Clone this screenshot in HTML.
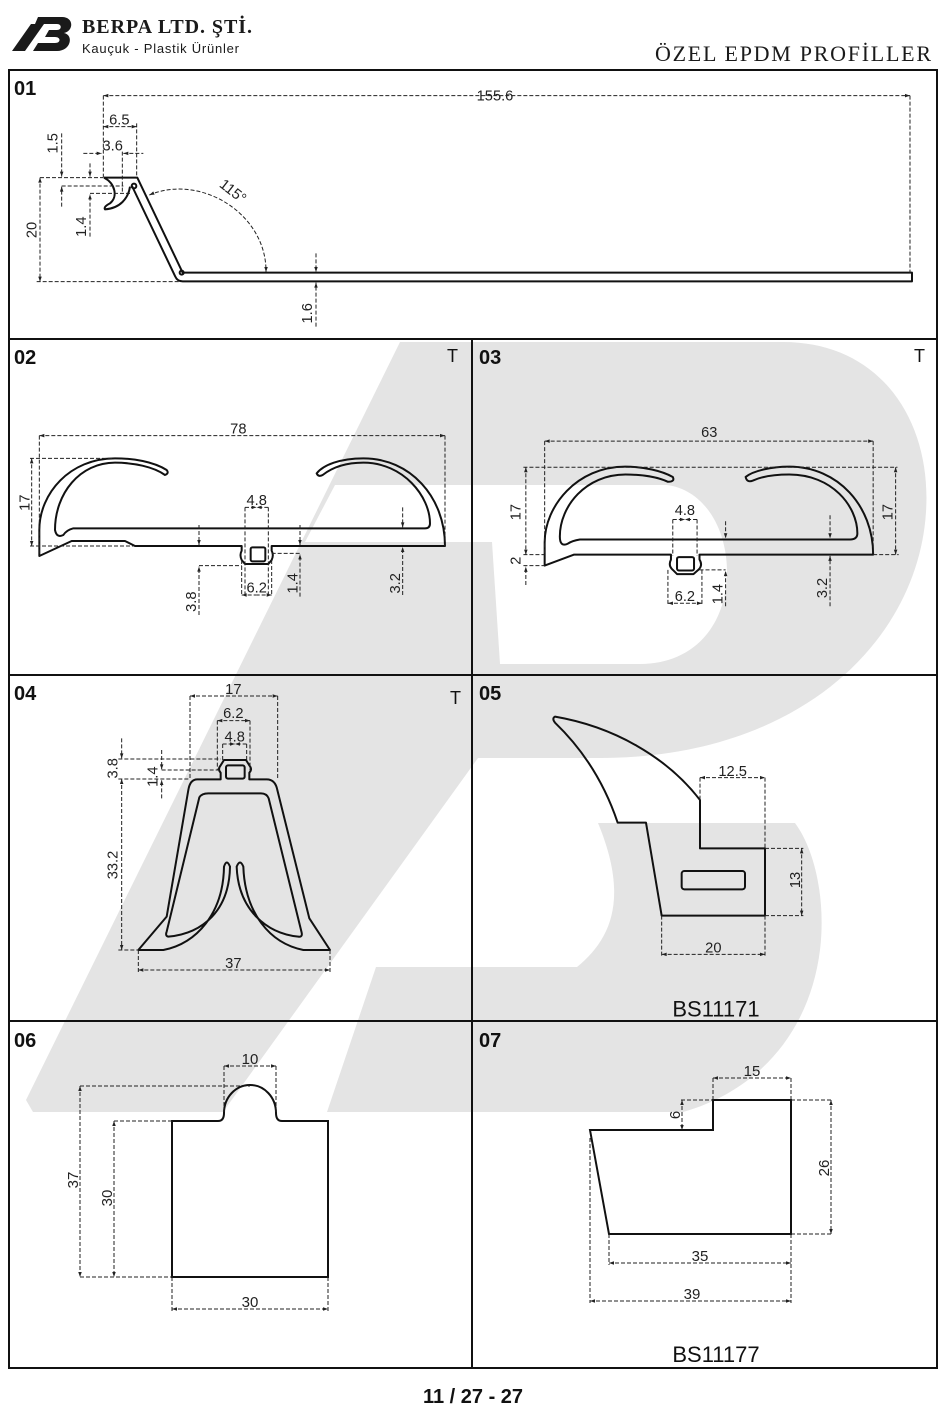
<!DOCTYPE html>
<html><head><meta charset="utf-8"><style>
html,body{margin:0;padding:0;background:#fff;}
svg{display:block;}
.t{font-family:"Liberation Sans",sans-serif;fill:#222;}
</style></head><body>
<svg width="947" height="1415" viewBox="0 0 947 1415" xmlns="http://www.w3.org/2000/svg">
<defs>
<marker id="ar" viewBox="0 0 10 10" refX="10" refY="5" markerWidth="7" markerHeight="5" orient="auto-start-reverse" markerUnits="strokeWidth">
<path d="M0,1.5 L10,5 L0,8.5 Z" fill="#222"/></marker>
</defs>
<!-- watermark -->
<g fill="#e4e4e4">
<path d="M400,342 L783,342 C880,342 932,420 926,512 C918,640 800,758 600,758 L478,758 L223,1112 L33,1112 L26,1100 Z"/>
<path d="M598,823 L795,823 C815,850 826,900 820,950 C810,1030 760,1090 683,1112 L327,1112 L376,967 L577,967 C610,940 630,900 598,823 Z"/>
</g>
<path fill="#fff" d="M335,485 L667,485 C705,490 728,530 727,575 C725,630 690,664 640,664 L500,664 L492,542 L305,542 Z"/>

<!-- header -->
<g fill="#1a1a1a">
<path d="M38,17 L62,17 C74,17 74,31 64,33 C74,35 71,51 57,51 L33,51 L38,43 L55,43 C61,43 61,37 55,37 L45,37 L49,30 L57,30 C62,30 62,24 57,24 L35,24 Z"/>
<path d="M12,51 L25,51 L44,24 L31,24 Z"/>
</g>
<text x="82" y="33" font-family="Liberation Serif,serif" font-weight="bold" font-size="20" textLength="170" fill="#1a1a1a">BERPA LTD. ŞTİ.</text>
<text x="82" y="53" font-family="Liberation Sans,sans-serif" font-size="13" textLength="157" fill="#1a1a1a">Kauçuk - Plastik Ürünler</text>
<text x="931" y="61" text-anchor="end" font-family="Liberation Serif,serif" font-size="22" textLength="276" fill="#1a1a1a">ÖZEL EPDM PROFİLLER</text>

<!-- frame -->
<g stroke="#111" stroke-width="2" fill="none">
<rect x="9" y="70" width="928" height="1298"/>
<line x1="9" y1="339" x2="937" y2="339"/>
<line x1="9" y1="675" x2="937" y2="675"/>
<line x1="9" y1="1021" x2="937" y2="1021"/>
<line x1="472" y1="339" x2="472" y2="1368"/>
</g>
<g font-family="Liberation Sans,sans-serif" font-weight="bold" font-size="20" fill="#111">
<text x="14" y="95">01</text><text x="14" y="364">02</text><text x="479" y="364">03</text>
<text x="14" y="700">04</text><text x="479" y="700">05</text><text x="14" y="1047">06</text><text x="479" y="1047">07</text>
</g>
<g font-family="Liberation Sans,sans-serif" font-size="18" fill="#111">
<text x="447" y="362">T</text><text x="914" y="362">T</text><text x="450" y="704">T</text>
</g>
<text x="473" y="1403" text-anchor="middle" font-family="Liberation Sans,sans-serif" font-weight="bold" font-size="20" fill="#111">11 / 27 - 27</text>

<!-- PANEL 01 (zoom2 coords) -->
<g transform="translate(0,80) scale(0.33333)">
<g fill="none" stroke="#111" stroke-width="6" stroke-linejoin="round">
<path d="M312,293 L412,293 L548,578 L2736,578 L2736,604 L548,604 Q532,604 526,590 L396,318"/>
<path d="M312,293 C345,310 355,350 330,370 Q310,380 315,388 C360,385 385,355 390,320"/>
<circle cx="402" cy="318" r="7"/><circle cx="545" cy="578" r="6"/>
</g>
<g fill="none" stroke="#222" stroke-width="3" stroke-dasharray="12 6">
<line x1="310" y1="47" x2="2730" y2="47" marker-start="url(#ar)" marker-end="url(#ar)"/>
<line x1="310" y1="47" x2="310" y2="293"/><line x1="2730" y1="47" x2="2730" y2="580"/>
<line x1="310" y1="140" x2="410" y2="140" marker-start="url(#ar)" marker-end="url(#ar)"/>
<line x1="410" y1="130" x2="410" y2="293"/>
<line x1="250" y1="220" x2="305" y2="220" marker-end="url(#ar)"/>
<line x1="370" y1="220" x2="430" y2="220" marker-start="url(#ar)"/>
<line x1="367" y1="215" x2="367" y2="335"/>
<line x1="185" y1="160" x2="185" y2="290" marker-end="url(#ar)"/>
<line x1="185" y1="380" x2="185" y2="320" marker-end="url(#ar)"/>
<line x1="120" y1="293" x2="310" y2="293"/><line x1="185" y1="318" x2="370" y2="318"/>
<line x1="270" y1="250" x2="270" y2="290" marker-end="url(#ar)"/>
<line x1="270" y1="470" x2="270" y2="343" marker-end="url(#ar)"/>
<line x1="270" y1="340" x2="390" y2="340"/>
<line x1="120" y1="293" x2="120" y2="605" marker-start="url(#ar)" marker-end="url(#ar)"/>
<line x1="110" y1="605" x2="540" y2="605"/>
<path d="M448,345 C600,280 800,400 798,576" marker-start="url(#ar)" marker-end="url(#ar)"/>
<line x1="948" y1="520" x2="948" y2="576" marker-end="url(#ar)"/>
<line x1="948" y1="740" x2="948" y2="608" marker-end="url(#ar)"/>
</g>
<g class="t" font-size="44">
<text x="1485" y="47" text-anchor="middle" dy="14">155.6</text>
<text x="358" y="134" text-anchor="middle">6.5</text>
<text x="338" y="212" text-anchor="middle">3.6</text>
<text transform="translate(172,190) rotate(-90)" text-anchor="middle">1.5</text>
<text transform="translate(258,440) rotate(-90)" text-anchor="middle">1.4</text>
<text transform="translate(110,450) rotate(-90)" text-anchor="middle">20</text>
<text transform="translate(936,700) rotate(-90)" text-anchor="middle">1.6</text>
<text transform="translate(690,345) rotate(38)" text-anchor="middle">115°</text>
</g>
</g>

<!-- PANEL 02 (zoom5 coords) -->
<g transform="translate(0,420) scale(0.33333)">
<path fill="none" stroke="#111" stroke-width="6" stroke-linejoin="round" d="M118,408 L215,363 L375,363 L405,378 L725,378 L725,392 Q718,405 725,420 L735,432 L805,432 L815,420 Q822,405 815,392 L815,378 L1335,378 C1335,230 1230,115 1090,115 C1020,115 970,135 950,160 Q955,172 968,165 C1000,140 1040,128 1090,128 C1210,128 1290,230 1290,310 Q1290,325 1275,325 L220,325 Q200,330 190,345 Q170,355 165,330 C165,220 240,128 345,128 C400,128 460,140 495,165 Q508,160 500,150 C460,125 400,115 345,115 C210,115 118,220 118,330 Z"/>
<rect x="752" y="382" width="44" height="42" rx="5" fill="none" stroke="#111" stroke-width="6"/>
<g fill="none" stroke="#222" stroke-width="3" stroke-dasharray="12 6">
<line x1="118" y1="47" x2="1335" y2="47" marker-start="url(#ar)" marker-end="url(#ar)"/>
<line x1="118" y1="47" x2="118" y2="408"/><line x1="1335" y1="47" x2="1335" y2="378"/>
<line x1="95" y1="115" x2="95" y2="378" marker-start="url(#ar)" marker-end="url(#ar)"/>
<line x1="90" y1="115" x2="340" y2="115"/><line x1="90" y1="378" x2="400" y2="378"/>
<line x1="735" y1="262" x2="770" y2="262" marker-end="url(#ar)"/><line x1="805" y1="262" x2="770" y2="262" marker-end="url(#ar)"/>
<line x1="735" y1="262" x2="735" y2="525"/><line x1="805" y1="262" x2="805" y2="525"/>
<line x1="725" y1="525" x2="770" y2="525" marker-start="url(#ar)"/><line x1="815" y1="525" x2="770" y2="525" marker-start="url(#ar)"/>
<line x1="725" y1="420" x2="725" y2="525"/><line x1="815" y1="420" x2="815" y2="525"/>
<line x1="597" y1="315" x2="597" y2="375" marker-end="url(#ar)"/>
<line x1="597" y1="585" x2="597" y2="440" marker-end="url(#ar)"/><line x1="597" y1="437" x2="725" y2="437"/>
<line x1="900" y1="315" x2="900" y2="375" marker-end="url(#ar)"/>
<line x1="900" y1="530" x2="900" y2="403" marker-end="url(#ar)"/><line x1="815" y1="400" x2="900" y2="400"/>
<line x1="1208" y1="262" x2="1208" y2="322" marker-end="url(#ar)"/>
<line x1="1208" y1="525" x2="1208" y2="381" marker-end="url(#ar)"/>
</g>
<g class="t" font-size="44">
<text x="715" y="40" text-anchor="middle">78</text>
<text transform="translate(88,248) rotate(-90)" text-anchor="middle">17</text>
<text x="770" y="255" text-anchor="middle">4.8</text>
<text x="770" y="518" text-anchor="middle">6.2</text>
<text transform="translate(588,545) rotate(-90)" text-anchor="middle">3.8</text>
<text transform="translate(893,490) rotate(-90)" text-anchor="middle">1.4</text>
<text transform="translate(1200,490) rotate(-90)" text-anchor="middle">3.2</text>
</g>
</g>

<!-- PANEL 03 (zoom7 coords) -->
<g transform="translate(0,330) scale(0.6072)">
<path fill="none" stroke="#111" stroke-width="3.3" stroke-linejoin="round" d="M897,388 L945,370 L1105,370 L1105,378 Q1100,388 1108,395 L1115,402 L1142,402 L1150,395 Q1158,388 1152,378 L1152,370 L1438,370 C1438,290 1380,225 1300,225 C1270,225 1240,232 1228,242 Q1230,252 1240,248 C1255,241 1275,238 1300,238 C1370,238 1412,290 1412,335 Q1412,345 1400,345 L955,345 Q942,347 935,352 Q922,358 922,340 C922,290 965,238 1030,238 C1060,238 1085,243 1100,250 Q1112,250 1108,242 C1090,232 1060,225 1030,225 C950,225 897,290 897,350 Z"/>
<rect x="1115" y="374" width="28" height="22" rx="3" fill="none" stroke="#111" stroke-width="3.3"/>
<g fill="none" stroke="#222" stroke-width="1.65" stroke-dasharray="6.6 3.3">
<line x1="897" y1="183" x2="1438" y2="183" marker-start="url(#ar)" marker-end="url(#ar)"/>
<line x1="897" y1="183" x2="897" y2="370"/><line x1="1438" y1="183" x2="1438" y2="370"/>
<line x1="862" y1="226" x2="1478" y2="226"/>
<line x1="866" y1="226" x2="866" y2="370" marker-start="url(#ar)" marker-end="url(#ar)"/>
<line x1="1475" y1="226" x2="1475" y2="370" marker-start="url(#ar)" marker-end="url(#ar)"/>
<line x1="1438" y1="370" x2="1480" y2="370"/><line x1="862" y1="370" x2="897" y2="370"/>
<line x1="866" y1="420" x2="866" y2="390" marker-end="url(#ar)"/><line x1="862" y1="388" x2="897" y2="388"/>
<line x1="1108" y1="312" x2="1128" y2="312" marker-end="url(#ar)"/><line x1="1148" y1="312" x2="1128" y2="312" marker-end="url(#ar)"/>
<line x1="1108" y1="312" x2="1108" y2="372"/><line x1="1148" y1="312" x2="1148" y2="372"/>
<line x1="1100" y1="450" x2="1128" y2="450" marker-start="url(#ar)"/><line x1="1156" y1="450" x2="1128" y2="450" marker-start="url(#ar)"/>
<line x1="1100" y1="395" x2="1100" y2="452"/><line x1="1156" y1="395" x2="1156" y2="452"/>
<line x1="1195" y1="315" x2="1195" y2="343" marker-end="url(#ar)"/>
<line x1="1195" y1="455" x2="1195" y2="397" marker-end="url(#ar)"/><line x1="1152" y1="395" x2="1195" y2="395"/>
<line x1="1367" y1="305" x2="1367" y2="343" marker-end="url(#ar)"/>
<line x1="1367" y1="455" x2="1367" y2="372" marker-end="url(#ar)"/>
</g>
<g class="t" font-size="24">
<text x="1168" y="176" text-anchor="middle">63</text>
<text transform="translate(857,300) rotate(-90)" text-anchor="middle">17</text>
<text transform="translate(1470,300) rotate(-90)" text-anchor="middle">17</text>
<text transform="translate(857,380) rotate(-90)" text-anchor="middle">2</text>
<text x="1128" y="305" text-anchor="middle">4.8</text>
<text x="1128" y="446" text-anchor="middle">6.2</text>
<text transform="translate(1190,435) rotate(-90)" text-anchor="middle">1.4</text>
<text transform="translate(1362,425) rotate(-90)" text-anchor="middle">3.2</text>
</g>
</g>

<!-- PANEL 04 (zoom4 coords) -->
<g transform="translate(0,680) scale(0.33333)">
<path fill="none" stroke="#111" stroke-width="6" stroke-linejoin="round" d="M415,810 L490,810 C590,790 670,700 672,560 Q680,535 690,560 C688,690 610,760 505,770 Q495,768 500,755 L598,352 Q605,340 625,340 L783,340 Q800,340 806,355 L905,758 Q908,772 895,770 C800,760 715,690 710,560 Q720,535 730,560 C735,700 810,790 910,810 L990,810 L928,715 L832,330 Q826,298 800,298 L748,298 L748,278 Q758,268 748,256 L738,240 L672,240 L662,256 Q652,268 662,278 L662,298 L592,298 Q570,298 565,330 L500,710 Z"/>
<rect x="678" y="256" width="56" height="40" rx="6" fill="none" stroke="#111" stroke-width="6"/>
<g fill="none" stroke="#222" stroke-width="3" stroke-dasharray="12 6">
<line x1="570" y1="48" x2="833" y2="48" marker-start="url(#ar)" marker-end="url(#ar)"/>
<line x1="570" y1="48" x2="570" y2="297"/><line x1="833" y1="48" x2="833" y2="297"/>
<line x1="652" y1="122" x2="750" y2="122" marker-start="url(#ar)" marker-end="url(#ar)"/>
<line x1="652" y1="122" x2="652" y2="270"/><line x1="750" y1="122" x2="750" y2="270"/>
<line x1="668" y1="192" x2="705" y2="192" marker-end="url(#ar)"/><line x1="740" y1="192" x2="705" y2="192" marker-end="url(#ar)"/>
<line x1="668" y1="192" x2="668" y2="242"/><line x1="740" y1="192" x2="740" y2="242"/>
<line x1="365" y1="175" x2="365" y2="235" marker-end="url(#ar)"/>
<line x1="355" y1="237" x2="662" y2="237"/><line x1="355" y1="297" x2="570" y2="297"/>
<line x1="365" y1="297" x2="365" y2="810" marker-start="url(#ar)" marker-end="url(#ar)"/>
<line x1="485" y1="210" x2="485" y2="268" marker-end="url(#ar)"/>
<line x1="485" y1="355" x2="485" y2="300" marker-end="url(#ar)"/>
<line x1="485" y1="270" x2="665" y2="270"/>
<line x1="355" y1="810" x2="415" y2="810"/>
<line x1="415" y1="870" x2="990" y2="870" marker-start="url(#ar)" marker-end="url(#ar)"/>
<line x1="415" y1="810" x2="415" y2="876"/><line x1="990" y1="810" x2="990" y2="876"/>
</g>
<g class="t" font-size="44">
<text x="700" y="42" text-anchor="middle">17</text>
<text x="700" y="114" text-anchor="middle">6.2</text>
<text x="704" y="185" text-anchor="middle">4.8</text>
<text transform="translate(352,265) rotate(-90)" text-anchor="middle">3.8</text>
<text transform="translate(472,290) rotate(-90)" text-anchor="middle">1.4</text>
<text transform="translate(352,555) rotate(-90)" text-anchor="middle">33.2</text>
<text x="700" y="864" text-anchor="middle">37</text>
</g>
</g>

<!-- PANEL 05 (zoom10 coords) -->
<g transform="translate(470,680) scale(0.33333)">
<path fill="none" stroke="#111" stroke-width="6" stroke-linejoin="round" d="M255,110 Q245,115 255,128 C330,200 400,300 443,428 L528,428 L575,707 L885,707 L885,505 L690,505 L690,360 C590,230 430,140 255,110 Z"/>
<rect x="635" y="573" width="190" height="55" rx="8" fill="none" stroke="#111" stroke-width="6"/>
<g fill="none" stroke="#222" stroke-width="3" stroke-dasharray="12 6">
<line x1="690" y1="293" x2="885" y2="293" marker-start="url(#ar)" marker-end="url(#ar)"/>
<line x1="690" y1="293" x2="690" y2="360"/><line x1="885" y1="293" x2="885" y2="505"/>
<line x1="995" y1="505" x2="995" y2="707" marker-start="url(#ar)" marker-end="url(#ar)"/>
<line x1="885" y1="505" x2="1000" y2="505"/><line x1="885" y1="707" x2="1000" y2="707"/>
<line x1="575" y1="823" x2="885" y2="823" marker-start="url(#ar)" marker-end="url(#ar)"/>
<line x1="575" y1="707" x2="575" y2="828"/><line x1="885" y1="707" x2="885" y2="828"/>
</g>
<g class="t" font-size="44">
<text x="788" y="288" text-anchor="middle">12.5</text>
<text transform="translate(990,600) rotate(-90)" text-anchor="middle">13</text>
<text x="730" y="818" text-anchor="middle">20</text>
</g>
<text x="738" y="1010" text-anchor="middle" font-family="Liberation Sans,sans-serif" font-size="66" fill="#111">BS11171</text>
</g>

<!-- PANEL 06 -->
<g>
<path fill="none" stroke="#111" stroke-width="2" d="M172,1121 L218,1121 Q224,1121 224,1113 C224,1097 236,1085 250,1085 C264,1085 276,1097 276,1113 Q276,1121 282,1121 L328,1121 L328,1277 L172,1277 Z"/>
<g fill="none" stroke="#222" stroke-width="1" stroke-dasharray="4 2">
<line x1="224" y1="1066" x2="276" y2="1066" marker-start="url(#ar)" marker-end="url(#ar)"/>
<line x1="224" y1="1066" x2="224" y2="1112"/><line x1="276" y1="1066" x2="276" y2="1112"/>
<line x1="80" y1="1086" x2="80" y2="1277" marker-start="url(#ar)" marker-end="url(#ar)"/>
<line x1="80" y1="1086" x2="250" y2="1086"/><line x1="80" y1="1277" x2="172" y2="1277"/>
<line x1="114" y1="1121" x2="114" y2="1277" marker-start="url(#ar)" marker-end="url(#ar)"/>
<line x1="114" y1="1121" x2="172" y2="1121"/>
<line x1="172" y1="1309" x2="328" y2="1309" marker-start="url(#ar)" marker-end="url(#ar)"/>
<line x1="172" y1="1277" x2="172" y2="1311"/><line x1="328" y1="1277" x2="328" y2="1311"/>
</g>
<g class="t" font-size="15">
<text x="250" y="1064" text-anchor="middle">10</text>
<text transform="translate(78,1180) rotate(-90)" text-anchor="middle">37</text>
<text transform="translate(112,1198) rotate(-90)" text-anchor="middle">30</text>
<text x="250" y="1307" text-anchor="middle">30</text>
</g>
</g>

<!-- PANEL 07 -->
<g>
<path fill="none" stroke="#111" stroke-width="2" d="M590,1130 L713,1130 L713,1100 L791,1100 L791,1234 L609,1234 Z"/>
<g fill="none" stroke="#222" stroke-width="1" stroke-dasharray="4 2">
<line x1="713" y1="1078" x2="791" y2="1078" marker-start="url(#ar)" marker-end="url(#ar)"/>
<line x1="713" y1="1078" x2="713" y2="1100"/><line x1="791" y1="1078" x2="791" y2="1100"/>
<line x1="681" y1="1100" x2="713" y2="1100"/><line x1="791" y1="1100" x2="832" y2="1100"/>
<line x1="682" y1="1100" x2="682" y2="1130" marker-start="url(#ar)" marker-end="url(#ar)"/>
<line x1="831" y1="1100" x2="831" y2="1234" marker-start="url(#ar)" marker-end="url(#ar)"/>
<line x1="791" y1="1234" x2="833" y2="1234"/>
<line x1="609" y1="1263" x2="791" y2="1263" marker-start="url(#ar)" marker-end="url(#ar)"/>
<line x1="590" y1="1301" x2="791" y2="1301" marker-start="url(#ar)" marker-end="url(#ar)"/>
<line x1="609" y1="1234" x2="609" y2="1265"/><line x1="590" y1="1138" x2="590" y2="1303"/>
<line x1="791" y1="1234" x2="791" y2="1303"/>
</g>
<g class="t" font-size="15">
<text x="752" y="1076" text-anchor="middle">15</text>
<text transform="translate(680,1115) rotate(-90)" text-anchor="middle">6</text>
<text transform="translate(829,1168) rotate(-90)" text-anchor="middle">26</text>
<text x="700" y="1261" text-anchor="middle">35</text>
<text x="692" y="1299" text-anchor="middle">39</text>
</g>
<text x="716" y="1362" text-anchor="middle" font-family="Liberation Sans,sans-serif" font-size="22" fill="#111">BS11177</text>
</g>
</svg>
</body></html>
